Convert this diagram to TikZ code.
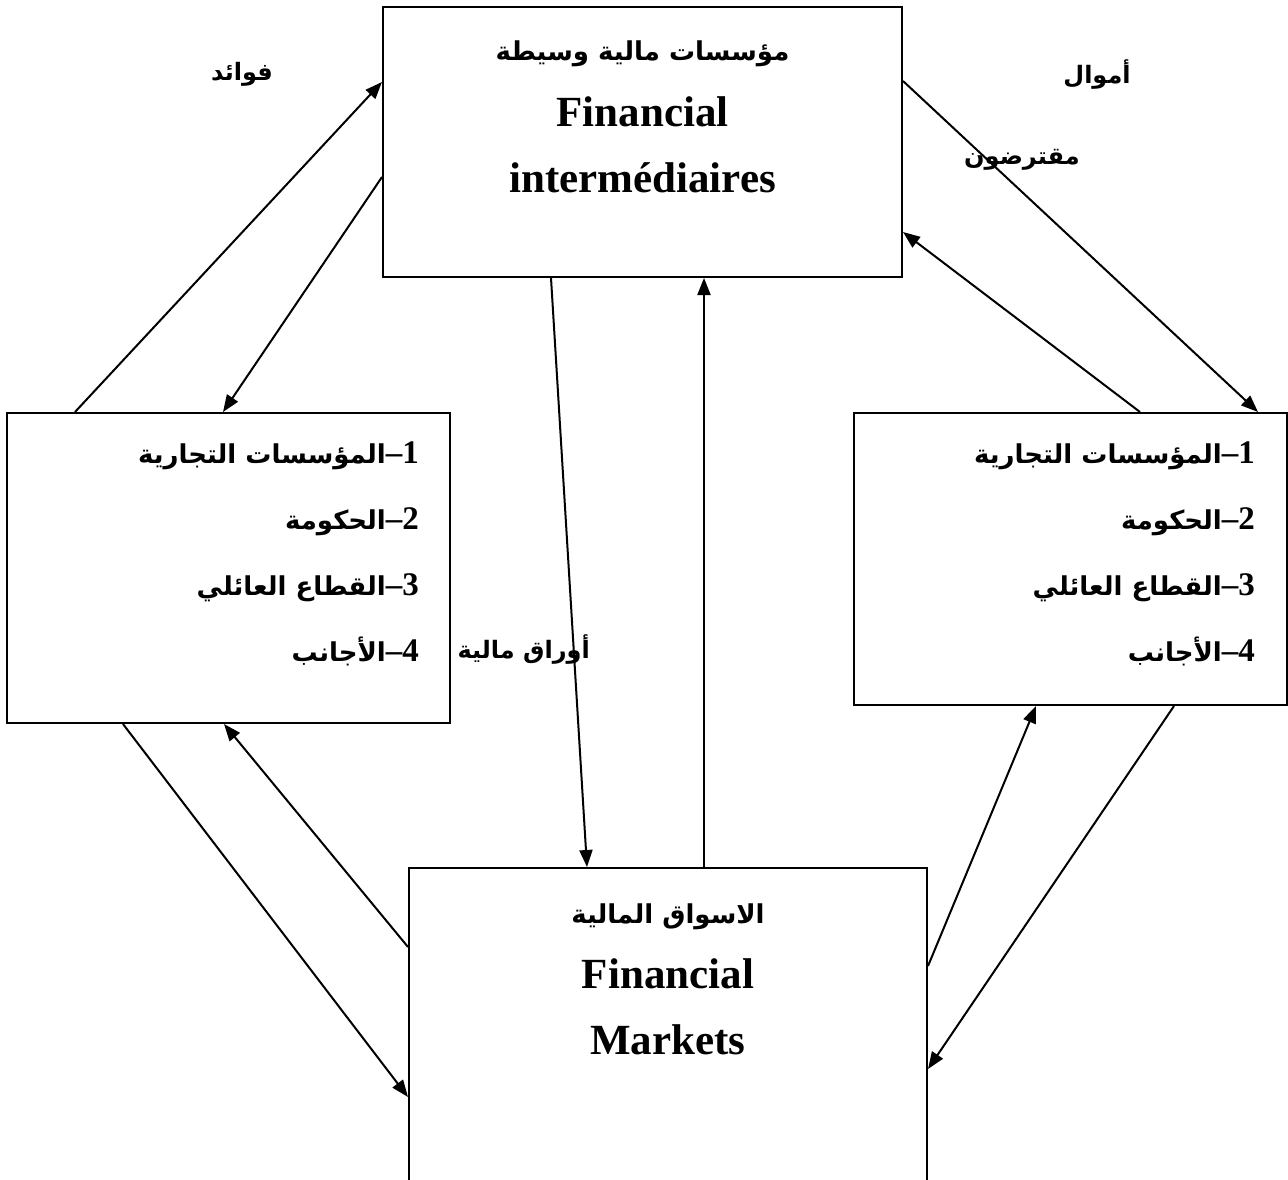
\documentclass[tikz,border=0pt]{standalone}
\usepackage{fontspec}
\usetikzlibrary{arrows.meta}
\setmainfont{Liberation Serif}
\newfontfamily\arabicfont[Script=Arabic]{DejaVu Sans}
\TeXXeTstate=1
% Arabic run, set right to left in bold
\newcommand{\artxt}[1]{{\arabicfont\bfseries\beginR #1\endR}}
% size of the Arabic words in the sector rows
\newcommand{\rowar}{\fontsize{26}{30}\selectfont}

\tikzset{
  box/.style={draw, line width=2pt, inner sep=0pt},
  conn/.style={line width=2pt, -{Triangle[length=17pt,width=13pt]}},
  latin/.style={font=\fontsize{43}{50}\selectfont\bfseries, inner sep=0pt},
  arhead/.style={font=\fontsize{26}{30}\selectfont, inner sep=0pt},
  rowtxt/.style={font=\fontsize{33}{40}\selectfont\bfseries, inner sep=0pt, anchor=base east},
  lbl/.style={font=\fontsize{24}{28}\selectfont, inner sep=0pt},
}

\begin{document}
\begin{tikzpicture}[x=1pt,y=-1pt]
\useasboundingbox (0,0) rectangle (1288,1180);
\clip (0,0) rectangle (1288,1180);

% boxes
\node[box, minimum width=519pt, minimum height=270pt] (fi) at (642.5,142) {};
\node[box, minimum width=443pt, minimum height=310pt] (lb) at (228.5,568) {};
\node[box, minimum width=433pt, minimum height=292pt] (rb) at (1070.5,559) {};
\node[box, minimum width=518pt, minimum height=332pt] (bot) at (668,1034) {};

% financial intermediaries
\node[arhead, anchor=base] (fiar) at (642.5,61) {\artxt{مؤسسات مالية وسيطة}};
\node[latin, anchor=base] (fien1) at (642.5,127) {Financial};
\node[latin, anchor=base] (fien2) at (642.5,193) {intermédiaires};

% financial markets
\node[arhead, anchor=base] (botar) at (668,923) {\artxt{الاسواق المالية}};
\node[latin, anchor=base] (boten1) at (668,988) {Financial};
\node[latin, anchor=base] (boten2) at (668,1054) {Markets};

% sectors, left
\node[rowtxt] (l1) at (419,463) {{\rowar\artxt{المؤسسات التجارية}}–1};
\node[rowtxt] (l2) at (419,529) {{\rowar\artxt{الحكومة}}–2};
\node[rowtxt] (l3) at (419,595) {{\rowar\artxt{القطاع العائلي}}–3};
\node[rowtxt] (l4) at (419,661) {{\rowar\artxt{الأجانب}}–4};

% sectors, right
\node[rowtxt] (r1) at (1255,463) {{\rowar\artxt{المؤسسات التجارية}}–1};
\node[rowtxt] (r2) at (1255,529) {{\rowar\artxt{الحكومة}}–2};
\node[rowtxt] (r3) at (1255,595) {{\rowar\artxt{القطاع العائلي}}–3};
\node[rowtxt] (r4) at (1255,661) {{\rowar\artxt{الأجانب}}–4};

% flow labels
\node[lbl] (lab1) at (242,74) {\artxt{فوائد}};
\node[lbl] (lab2) at (1097,75) {\artxt{أموال}};
\node[lbl] (lab3) at (1022,160) {\artxt{مقترضون}};
\node[lbl, anchor=east] (lab4) at (590,650) {\artxt{أوراق مالية}};

% connectors
\draw[conn] ([xshift=69pt]lb.north west) -- ([yshift=-76pt]fi.north west);
\draw[conn] ([yshift=-171pt]fi.north west) -- ([xshift=217pt]lb.north west);
\draw[conn] ([xshift=169pt]fi.south west) -- ([xshift=179pt]bot.north west);
\draw[conn] ([xshift=296pt]bot.north west) -- ([xshift=322pt]fi.south west);
\draw[conn] ([yshift=-75pt]fi.north east) -- ([xshift=-30pt]rb.north east);
\draw[conn] ([xshift=287pt]rb.north west) -- ([yshift=-226pt]fi.north east);
\draw[conn] ([xshift=117pt]lb.south west) -- ([yshift=-230pt]bot.north west);
\draw[conn] ([yshift=-80pt]bot.north west) -- ([xshift=218pt]lb.south west);
\draw[conn] ([yshift=-99pt]bot.north east) -- ([xshift=183pt]rb.south west);
\draw[conn] ([xshift=321pt]rb.south west) -- ([yshift=-202pt]bot.north east);
\end{tikzpicture}
\end{document}
